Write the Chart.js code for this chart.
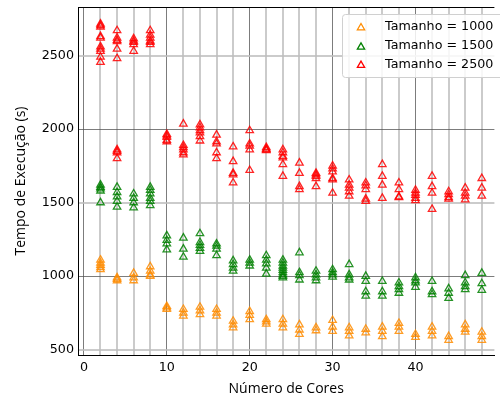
<!DOCTYPE html>
<html>
<head>
<meta charset="utf-8">
<script src="https://cdn.jsdelivr.net/npm/chart.js@4"></script>
<style>
  html, body { margin: 0; padding: 0; background: #fff; }
  #wrap { width: 500px; height: 401px; position: relative; }
</style>
</head>
<body>
<div id="wrap"><canvas id="c" width="500" height="401"></canvas></div>
<script>
const cores = [2,4,6,8,10,12,14,16,18,20,22,24,26,28,30,32,34,36,38,40,42,44,46,48];
const seriesLabels = ['Tamanho = 1000', 'Tamanho = 1500', 'Tamanho = 2500'];
const xTickLabels = [0, 10, 20, 30, 40];
const yTickLabels = [500, 1000, 1500, 2000, 2500];

const t1000 = [
  [1110,1090,1075,1060,1045],[990,980,970],[1020,990,970],[1065,1035,1010,1000],
  [795,785,775],[775,750,730],[790,765,740],[775,750,730],
  [695,670,650],[760,735,705],[705,690,675],[705,675,650],
  [670,635,605],[650,630],[700,655,625],[650,625,595],
  [640,615],[655,625,590],[680,655,625],[605,585],
  [655,625,595],[590,565],[670,640,620],[620,590,565]
];
const t1500 = [
  [1620,1605,1595,1580,1500],[1605,1570,1540,1510,1470],[1560,1530,1500,1465],[1605,1585,1560,1530,1510,1480],
  [1275,1245,1220,1180],[1260,1185,1130],[1290,1230,1210,1190,1170],[1220,1205,1185,1140],
  [1105,1080,1055,1035],[1110,1090,1070],[1140,1110,1085,1055,1015],[1110,1090,1070,1055,1040,1025,1010,1000,990],
  [1160,1025,1005,975],[1035,1010,990,970],[1045,1025,1010,995],[1080,1010,990,975],
  [1000,965,895,865],[965,895,865],[955,930,910,885],[990,970,955,925],
  [965,895,875],[915,885,850],[1005,955,930,910],[1020,950,905]
];
const t2500 = [
  [2715,2705,2695,2630,2620,2560,2545,2530,2490,2455],[2670,2620,2605,2595,2545,2480,1860,1850,1840,1800],[2615,2600,2590,2575,2530],[2670,2640,2620,2600,2590,2575],
  [1965,1955,1945,1925,1915],[2035,1890,1875,1860,1840,1825],[2030,2010,1990,1975,1950,1920],[1960,1915,1900,1840,1800],
  [1880,1780,1700,1690,1635],[1990,1900,1885,1860,1720],[1875,1865,1860,1855],[1860,1840,1815,1805,1760,1680],
  [1770,1700,1610,1590],[1700,1690,1680,1665,1610],[1750,1730,1710,1665,1655,1565],[1655,1620,1600,1575,1545],
  [1635,1615,1590,1525,1510],[1760,1680,1620,1530],[1635,1590,1540,1535],[1585,1565,1550,1530,1515],
  [1680,1610,1565,1455],[1575,1555,1535,1525],[1600,1565,1545,1520],[1665,1600,1545]
];

const colors = ['#ff8c00', '#008000', '#ff0000'];

function toPoints(arr) {
  const pts = [];
  cores.forEach((c, i) => arr[i].forEach(v => pts.push({x: c, y: v})));
  return pts;
}

function hexA(hex, a) {
  const r = parseInt(hex.slice(1,3),16), g = parseInt(hex.slice(3,5),16), b = parseInt(hex.slice(5,7),16);
  return `rgba(${r},${g},${b},${a})`;
}

const tickFont = { family: 'DejaVu Sans', size: 12.7 };
const titleFont = { family: 'Open Sans', size: 14 };

const frameAndLegend = {
  id: 'frameAndLegend',
  afterDraw(chart) {
    const ctx = chart.ctx;
    const a = chart.chartArea;
    ctx.save();
    ctx.strokeStyle = '#000';
    ctx.lineWidth = 1;
    ctx.beginPath();
    ctx.moveTo(a.left, a.top + 0.5);
    ctx.lineTo(a.right, a.top + 0.5);
    ctx.stroke();
    // legend
    const bx = 342, by = 14.5, bw = 175, bh = 63;
    ctx.fillStyle = 'rgba(255,255,255,0.85)';
    ctx.strokeStyle = '#d0d0d0';
    ctx.lineWidth = 1;
    ctx.beginPath();
    ctx.roundRect(bx + 0.5, by, bw, bh, 3);
    ctx.fill();
    ctx.stroke();
    const rows = [26.7, 46, 64.3];
    chart.data.datasets.forEach((ds, i) => {
      ctx.strokeStyle = ds.borderColor;
      ctx.lineWidth = 1.3;
      ctx.beginPath();
      const r = 4.2, x = 361, y = rows[i] + 1;
      for (let k = 0; k < 3; k++) {
        const ang = k * 2 * Math.PI / 3;
        const px = x + Math.sin(ang) * r, py = y - Math.cos(ang) * r;
        if (k === 0) ctx.moveTo(px, py); else ctx.lineTo(px, py);
      }
      ctx.closePath();
      ctx.stroke();
      ctx.fillStyle = '#000';
      ctx.font = '12.7px "DejaVu Sans"';
      ctx.textBaseline = 'middle';
      ctx.textAlign = 'left';
      ctx.fillText(ds.label, 385, rows[i]);
    });
    ctx.restore();
  }
};

const datasets = [t1000, t1500, t2500].map((arr, i) => ({
  label: seriesLabels[i],
  data: toPoints(arr),
  pointStyle: 'triangle',
  pointRadius: 4.3,
  pointHoverRadius: 4.3,
  pointBorderWidth: 1.3,
  borderColor: colors[i],
  pointBorderColor: hexA(colors[i], 0.85),
  pointBackgroundColor: 'rgba(0,0,0,0)',
  showLine: false
}));

const xGridValues = [0].concat(cores);

new Chart(document.getElementById('c'), {
  type: 'scatter',
  data: { datasets },
  plugins: [frameAndLegend],
  options: {
    responsive: false,
    animation: false,
    devicePixelRatio: 1,
    layout: { padding: { top: 7, right: 0, left: 0, bottom: 0 } },
    plugins: { legend: { display: false }, tooltip: { enabled: false } },
    scales: {
      x: {
        type: 'linear',
        min: -0.714,
        max: 49.52,
        afterBuildTicks: s => { s.ticks = xGridValues.map(v => ({ value: v })); },
        ticks: {
          autoSkip: false,
          maxRotation: 0,
          color: '#000',
          font: tickFont,
          padding: 5,
          callback: v => xTickLabels.includes(v) ? String(v) : ''
        },
        grid: {
          drawTicks: false,
          color: c => (c.tick && c.tick.value % 10 === 0) ? 'rgba(80,80,80,0.75)' : 'rgba(190,190,190,0.8)',
          lineWidth: c => (c.tick && c.tick.value % 10 === 0) ? 1 : 2
        },
        border: { display: true, color: '#000', width: 1 },
        title: {
          display: true,
          text: 'Número de Cores',
          color: '#000',
          font: titleFont,
          padding: { top: 0, bottom: 4 }
        },
        afterFit: s => { s.height = 46; s.paddingLeft = 0; s.paddingRight = 0; }
      },
      y: {
        type: 'linear',
        min: 464,
        max: 2830,
        afterBuildTicks: s => { s.ticks = yTickLabels.map(v => ({ value: v })); },
        ticks: {
          autoSkip: false,
          color: '#000',
          font: tickFont,
          padding: 4,
          callback: v => String(v)
        },
        grid: {
          drawTicks: false,
          color: c => (c.tick && c.tick.value % 1000 === 0) ? 'rgba(80,80,80,0.75)' : 'rgba(190,190,190,0.8)',
          lineWidth: c => (c.tick && c.tick.value % 1000 === 0) ? 1 : 2
        },
        border: { display: true, color: '#000', width: 1 },
        title: {
          display: true,
          text: 'Tempo de Execução (s)',
          color: '#000',
          font: titleFont,
          padding: { top: 13, bottom: 0 }
        },
        afterFit: s => { s.width = 78; s.paddingTop = 0; s.paddingBottom = 0; }
      }
    }
  }
});
</script>
</body>
</html>
